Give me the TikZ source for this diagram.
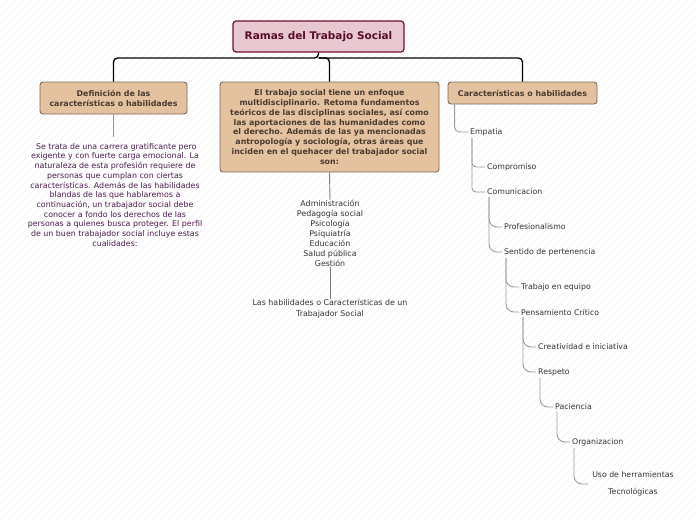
\documentclass[tikz,border=0pt]{standalone}
\usepackage{fontspec}
\setmainfont{DejaVu Sans}
\usetikzlibrary{positioning}

\definecolor{rosa}{HTML}{E8C8D0}
\definecolor{vino}{HTML}{6E1030}
\definecolor{arena}{HTML}{E4C2A0}
\definecolor{cafe}{HTML}{7B6A58}
\definecolor{tinta}{HTML}{4A3A2E}
\definecolor{morado}{HTML}{4B1C4B}
\definecolor{gris}{HTML}{9A9A9A}
\definecolor{trama}{HTML}{EFEFEF}

\tikzset{
  raiz/.style={draw=vino, fill=rosa, line width=1.2pt, rounded corners=3pt,
    text=vino!80!black, font=\fontsize{10.5}{12}\selectfont\bfseries,
    minimum width=171pt, minimum height=31pt},
  caja/.style={draw=cafe, fill=arena, line width=0.9pt, rounded corners=3pt,
    text=tinta, font=\fontsize{7.9}{9.8}\selectfont\bfseries, align=center, inner sep=1pt},
  parrafo/.style={text=morado, font=\fontsize{7.9}{9.7}\selectfont, align=center, inner sep=0pt},
  lista/.style={text=black!80, font=\fontsize{7.9}{10}\selectfont, align=center, inner sep=0pt},
  hoja/.style={text=black!80, font=\fontsize{7.8}{9}\selectfont, inner sep=2pt},
  tronco/.style={draw=black, line width=1.3pt, rounded corners=4pt},
  enlace/.style={draw=gris, line width=0.9pt, rounded corners=8pt},
  hatch/.style={draw=trama, line width=0.5pt}
}

\begin{document}
\begin{tikzpicture}[x=1pt, y=-1pt]
\useasboundingbox (0,0) rectangle (696,520);
% fondo rayado
\begin{scope}
  \clip (0,0) rectangle (696,520);
  \foreach \k in {-520,-512,...,696}
    \draw[hatch] (\k,520) -- ++(520,-520);
\end{scope}

% nodo central
\node[raiz] (titulo) at (318.5,36.5) {Ramas del Trabajo Social};

% ramas principales
\node[caja, minimum width=147pt, minimum height=32pt] (def) at (113.5,98)
  {Definición de las\\características o habilidades};
\node[caja, minimum width=219pt, minimum height=90pt] (multi) at (329.5,127)
  {El trabajo social tiene un enfoque\\multidisciplinario. Retoma fundamentos\\teóricos de las disciplinas sociales, así como\\las aportaciones de las humanidades como\\el derecho. Además de las ya mencionadas\\antropología y sociología, otras áreas que\\inciden en el quehacer del trabajador social\\son:};
\node[caja, minimum width=149pt, minimum height=22pt] (car) at (522.5,93)
  {Características o habilidades};

\coordinate (bus) at (318.5,58);
\draw[tronco] (titulo.south) -- (bus) -| (def.north);
\draw[tronco] (bus) -| (multi.north);
\draw[tronco] (bus) -| (car.north);

% definicion
\node[parrafo, anchor=north] (texto) at (115,143)
  {\ Se trata de una carrera gratificante pero\\exigente y con fuerte carga emocional. La\\naturaleza de esta profesión requiere de\\personas que cumplan con ciertas\\características. Además de las habilidades\\blandas de las que hablaremos a\\continuación, un trabajador social debe\\conocer a fondo los derechos de las\\personas a quienes busca proteger. El perfil\\de un buen trabajador social incluye estas\\cualidades:};
\draw[gris, line width=0.9pt] (def.south) -- ++(0,23);

% areas
\node[lista, anchor=north] (areas) at (330,200)
  {Administración\\Pedagogía social\\Psicología\\Psiquiatría\\Educación\\Salud pública\\Gestión};
\node[lista, anchor=north, font=\fontsize{7.9}{11}\selectfont] (perfil) at (330,299)
  {Las habilidades o Características de un\\Trabajador Social};
\draw[gris!80!black, line width=0.9pt] (multi.south) -- (areas.north);
\draw[gris!80!black, line width=0.9pt] (areas.south) -- (perfil.north);

% caracteristicas
\node[hoja, anchor=west] (emp) at (468,132) {Empatia};
\node[hoja, anchor=west] (comp) at (485,167) {Compromiso};
\node[hoja, anchor=west] (com) at (485,192) {Comunicacion};
\node[hoja, anchor=west] (prof) at (502,227) {Profesionalismo};
\node[hoja, anchor=west] (sent) at (502,252) {Sentido de pertenencia};
\node[hoja, anchor=west] (trab) at (519,287) {Trabajo en equipo};
\node[hoja, anchor=west] (pens) at (519,312) {Pensamiento Crítico};
\node[hoja, anchor=west] (crea) at (536,347) {Creatividad e iniciativa};
\node[hoja, anchor=west] (resp) at (536,372) {Respeto};
\node[hoja, anchor=west] (pac) at (553,407) {Paciencia};
\node[hoja, anchor=west] (org) at (570,442) {Organizacion};
\node[hoja, align=center, font=\fontsize{7.8}{17}\selectfont] (uso) at (633,484)
  {Uso de herramientas\\Tecnológicas};

\draw[enlace, rounded corners=5pt] ([xshift=7pt]car.south west) |- (emp.west);
\draw[enlace, rounded corners=4pt] ([xshift=4pt]emp.south west) |- (comp.west);
\draw[enlace, rounded corners=4pt] ([xshift=4pt]emp.south west) |- (com.west);
\draw[enlace] ([xshift=4pt]com.south west) |- (prof.west);
\draw[enlace] ([xshift=4pt]com.south west) |- (sent.west);
\draw[enlace] ([xshift=4pt]sent.south west) |- (trab.west);
\draw[enlace] ([xshift=4pt]sent.south west) |- (pens.west);
\draw[enlace] ([xshift=4pt]pens.south west) |- (crea.west);
\draw[enlace] ([xshift=4pt]pens.south west) |- (resp.west);
\draw[enlace] ([xshift=4pt]resp.south west) |- (pac.west);
\draw[enlace] ([xshift=4pt]pac.south west) |- (org.west);
\draw[enlace] ([xshift=4pt]org.south west) |- ([xshift=-2pt]uso.west);
\end{tikzpicture}
\end{document}
